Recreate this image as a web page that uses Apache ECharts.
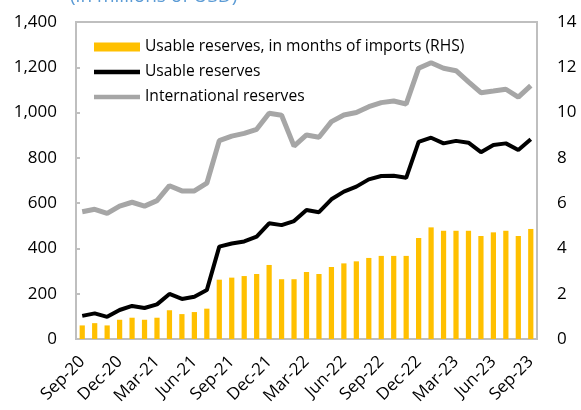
<!DOCTYPE html>
<html>
<head>
<meta charset="utf-8">
<script src="https://cdn.jsdelivr.net/npm/echarts@6/dist/echarts.min.js"></script>
<style>
  html, body { margin: 0; padding: 0; background: #fff; }
  #chart { width: 581px; height: 410px; }
</style>
</head>
<body>
<div id="chart"></div>
<script>
// monthly, Sep-20 .. Sep-23
const months = [
  'Sep-20', 'Oct-20', 'Nov-20', 'Dec-20', 'Jan-21', 'Feb-21', 'Mar-21', 'Apr-21', 'May-21',
  'Jun-21', 'Jul-21', 'Aug-21', 'Sep-21', 'Oct-21', 'Nov-21', 'Dec-21', 'Jan-22', 'Feb-22',
  'Mar-22', 'Apr-22', 'May-22', 'Jun-22', 'Jul-22', 'Aug-22', 'Sep-22', 'Oct-22', 'Nov-22',
  'Dec-22', 'Jan-23', 'Feb-23', 'Mar-23', 'Apr-23', 'May-23', 'Jun-23', 'Jul-23', 'Aug-23', 'Sep-23'
]

// usable reserves, in months of imports (RHS)
const monthsOfImports = [
  0.6, 0.7, 0.6, 0.85, 0.94, 0.85, 0.94, 1.27, 1.1, 1.19, 1.34, 2.62, 2.71,
  2.78, 2.87, 3.27, 2.64, 2.64, 2.96, 2.87, 3.18, 3.34, 3.43, 3.58, 3.67,
  3.67, 3.67, 4.46, 4.93, 4.78, 4.78, 4.78, 4.55, 4.71, 4.78, 4.55, 4.86
]

// usable reserves, millions of USD
const usableReserves = [
  102, 113, 98, 128, 146, 137, 153, 199, 177, 187, 216, 408, 422,
  431, 452, 511, 503, 521, 570, 560, 617, 651, 673, 705, 720,
  721, 712, 871, 889, 864, 875, 867, 825, 857, 864, 835, 882
]

// international reserves, millions of USD
const internationalReserves = [
  562, 573, 555, 587, 604, 587, 611, 677, 654, 654, 688, 876, 896,
  908, 926, 997, 988, 852, 901, 891, 960, 989, 1000, 1026, 1044,
  1051, 1038, 1196, 1220, 1196, 1185, 1136, 1088, 1095, 1103, 1068, 1119
]

const leftTicks = { min: 0, max: 1400, interval: 200 }
const rightTicks = { min: 0, max: 14, interval: 2 }

const names = [
  'Usable reserves, in months of imports (RHS)',
  'Usable reserves',
  'International reserves'
]

const font = 'Open Sans'
const axisGray = '#bfbfbf'
// thin bar used as legend icon for the two lines
const lineIcon = 'path://M0,0 L48,0 L48,4.5 L0,4.5 Z'

const chart = echarts.init(document.getElementById('chart'))

const option = {
  animation: false,
  textStyle: { fontFamily: font },
  graphic: [
    {
      type: 'text',
      left: 70,
      top: -13,
      style: {
        text: '(in millions of USD)',
        fill: '#5b9bd5',
        font: '19px "Open Sans"'
      }
    }
  ],
  legend: {
    orient: 'vertical',
    left: 89,
    top: 34,
    itemWidth: 46,
    itemHeight: 9,
    itemGap: 9,
    symbolKeepAspect: true,
    textStyle: { fontSize: 15.6, color: '#000', fontFamily: font },
    data: [
      { name: names[0], icon: 'rect' },
      { name: names[1], icon: lineIcon, itemStyle: { color: '#000' } },
      { name: names[2], icon: lineIcon, itemStyle: { color: '#a6a6a6' } }
    ]
  },
  grid: {
    left: 76,
    right: 44,
    top: 22,
    bottom: 71,
    show: true,
    borderColor: axisGray,
    borderWidth: 2
  },
  xAxis: {
    type: 'category',
    data: months,
    boundaryGap: true,
    axisLine: { lineStyle: { color: axisGray, width: 2 } },
    axisTick: {
      inside: true,
      length: 4,
      interval: 2,
      lineStyle: { color: axisGray, width: 2 }
    },
    axisLabel: {
      interval: 2,
      rotate: 45,
      margin: 20,
      fontSize: 17,
      color: '#000',
      fontFamily: font
    }
  },
  yAxis: [
    {
      type: 'value',
      ...leftTicks,
      axisLine: { show: true, lineStyle: { color: axisGray, width: 2 } },
      axisTick: { show: true, inside: true, length: 4, lineStyle: { color: axisGray, width: 2 } },
      splitLine: { show: false },
      axisLabel: {
        margin: 19,
        fontSize: 17,
        color: '#000',
        fontFamily: font,
        formatter: (v) => v.toLocaleString('en-US')
      }
    },
    {
      type: 'value',
      ...rightTicks,
      position: 'right',
      axisLine: { show: true, lineStyle: { color: axisGray, width: 2 } },
      axisTick: { show: false },
      splitLine: { show: false },
      axisLabel: {
        margin: 20,
        fontSize: 17,
        color: '#000',
        fontFamily: font
      }
    }
  ],
  series: [
    {
      name: names[0],
      type: 'bar',
      yAxisIndex: 1,
      data: monthsOfImports,
      barWidth: '42%',
      itemStyle: { color: '#ffc000' }
    },
    {
      name: names[1],
      type: 'line',
      yAxisIndex: 0,
      data: usableReserves,
      symbol: 'none',
      itemStyle: { color: '#000' },
      lineStyle: { color: '#000', width: 4 },
      z: 4
    },
    {
      name: names[2],
      type: 'line',
      yAxisIndex: 0,
      data: internationalReserves,
      symbol: 'none',
      itemStyle: { color: '#a6a6a6' },
      lineStyle: { color: '#a6a6a6', width: 5 },
      z: 3
    }
  ]
}

chart.setOption(option)
</script>
</body>
</html>
